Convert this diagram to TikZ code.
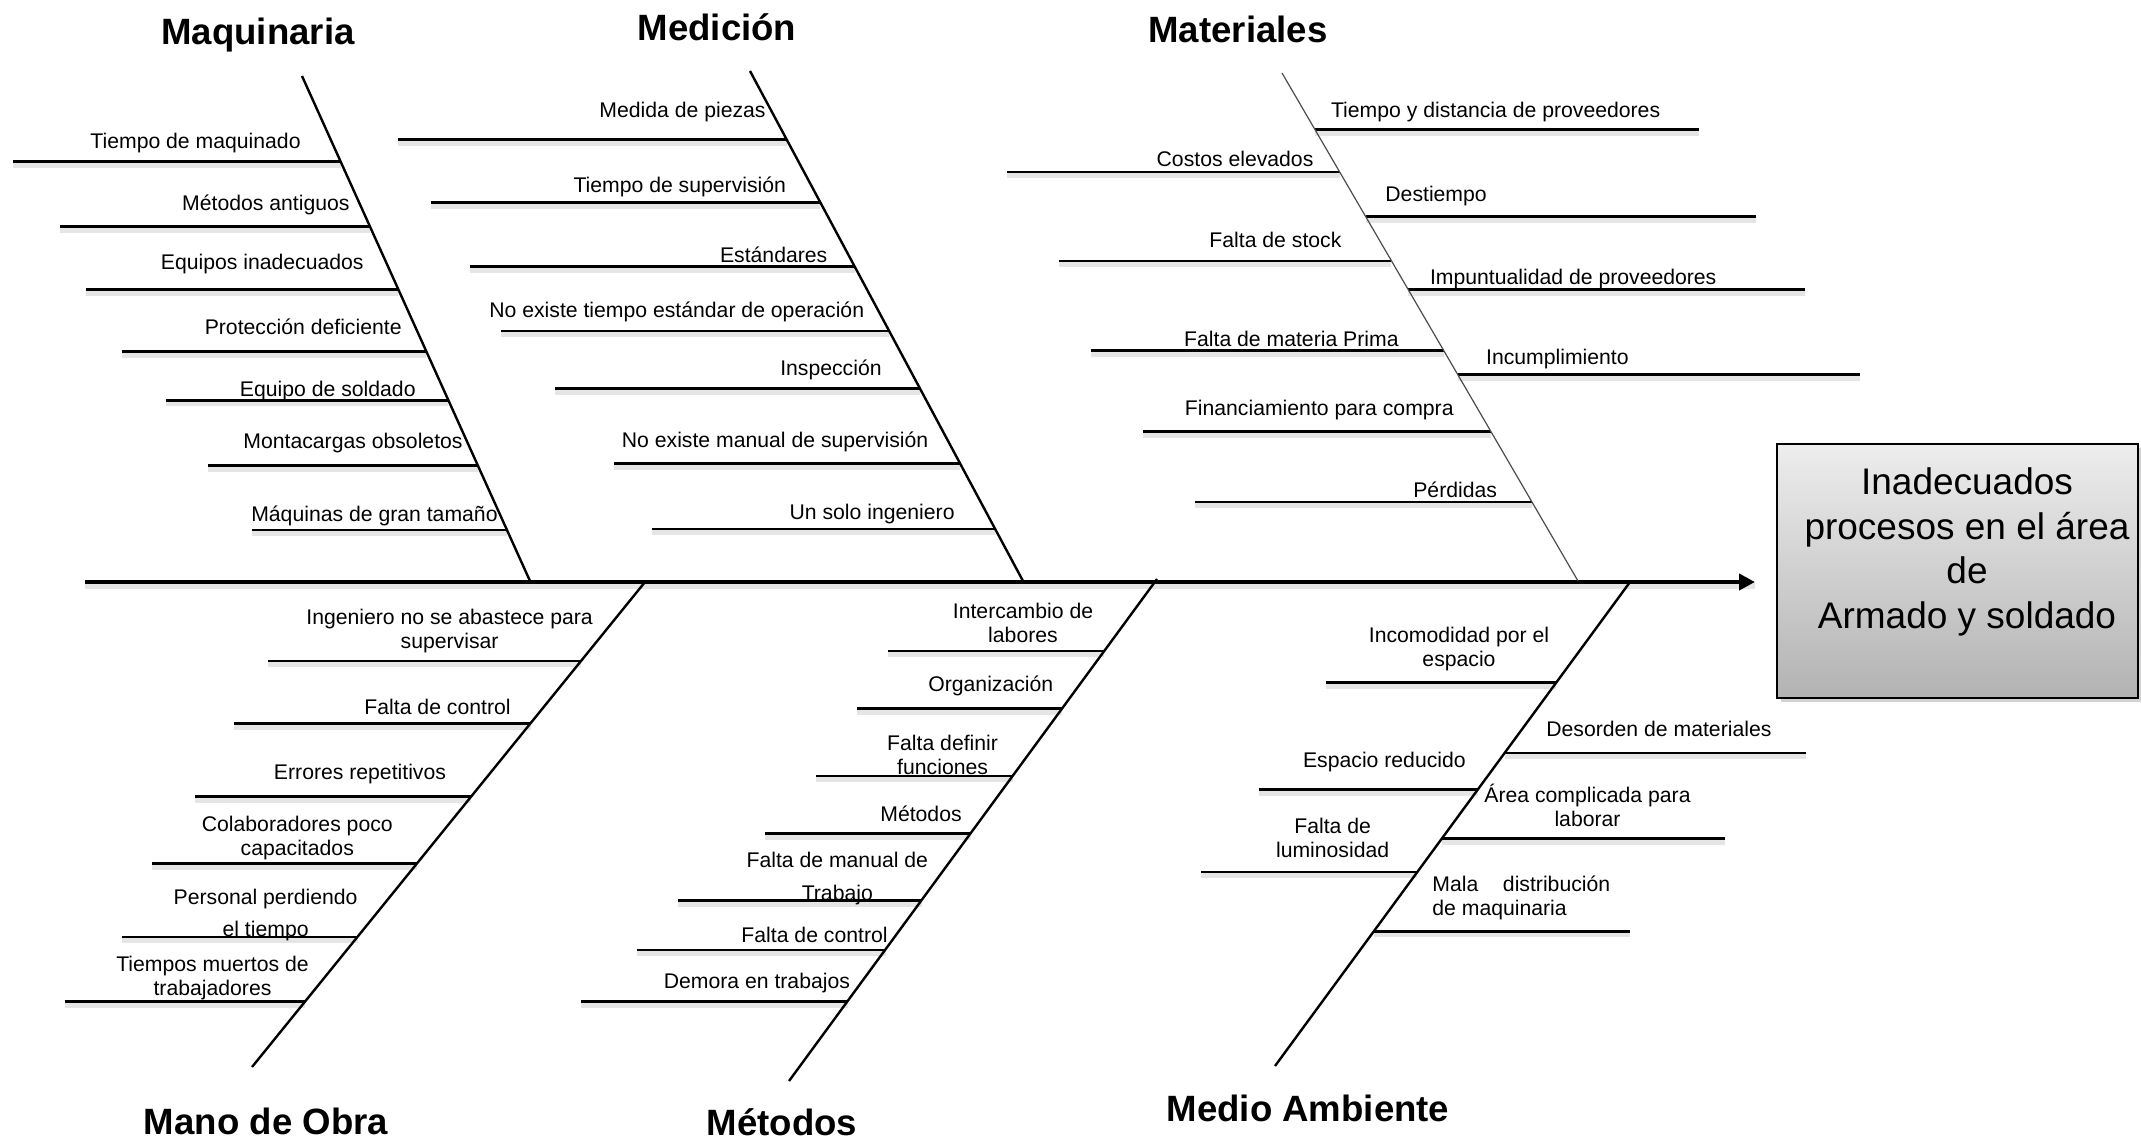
\documentclass[tikz,border=0pt]{standalone}
\usepackage{fontspec}
\setmainfont{Liberation Sans}
\usetikzlibrary{arrows.meta,shadows}

\newcommand\twig[4]{%
  \coordinate (#1L) at (#2,#4);
  \coordinate (#1R) at (#3,#4);
  \draw[twigline] (#1L) -- (#1R);}

\tikzset{
  lbl/.style={font=\fontsize{10.6}{12}\selectfont, inner sep=0pt},
  lbltwo/.style={lbl, align=center},
  lblwide/.style={font=\fontsize{10.6}{16.2}\selectfont, inner sep=0pt, align=center},
  head/.style={font=\fontsize{18.3}{22}\selectfont\bfseries, inner sep=0pt},
  bone/.style={line width=1.2pt},
  thinbone/.style={line width=0.6pt, draw=black!70},
  twigline/.style={line width=1.3pt,
    preaction={draw=black!10, line width=2.6pt, transform canvas={yshift=-1.8pt}}},
  spine/.style={line width=2pt, -{Triangle[length=8pt,width=8pt]},
    preaction={draw=black!10, line width=3.2pt, -, transform canvas={yshift=-2pt}}},
  effectbox/.style={draw=black, line width=1pt, top color=black!7, bottom color=black!30,
    minimum width=180.5pt, minimum height=127pt, inner sep=0pt,
    drop shadow={opacity=0.35, shadow xshift=2pt, shadow yshift=-2pt}},
  efftext/.style={font=\fontsize{18.5}{22.25}\selectfont, align=center, inner sep=0pt}
}

\begin{document}
\begin{tikzpicture}[x=0.5pt,y=-0.5pt]
\useasboundingbox (0,0) rectangle (2141,1142);

% effect box
\node[effectbox] (effect) at (1957.5,571) {};
\node[efftext] (etext) at (1967,552) {Inadecuados\\procesos en el área\\de\\Armado y soldado};

% spine
\coordinate (tail) at (85,582);
\draw[spine, shorten >=10.5pt] (tail) -- (tail -| effect.west);

% headings
\node[head, anchor=base] (hMaq) at (258,44) {Maquinaria};
\node[head, anchor=base] (hMed) at (717,40) {Medición};
\node[head, anchor=base] (hMat) at (1238,42) {Materiales};
\node[head, anchor=base] (hMano) at (266,1134) {Mano de Obra};
\node[head, anchor=base] (hMet) at (782,1135) {Métodos};
\node[head, anchor=base] (hAmb) at (1308,1121) {Medio Ambiente};

% bone end points
\coordinate (maqT) at (302,76);   \coordinate (maqB) at (530,581);
\coordinate (medT) at (750,71);   \coordinate (medB) at (1023,581);
\coordinate (matT) at (1282,73);  \coordinate (matB) at (1578,581);
\coordinate (manT) at (645,582);  \coordinate (manB) at (252,1067);
\coordinate (metT) at (1157,579); \coordinate (metB) at (789,1081);
\coordinate (ambT) at (1630,582); \coordinate (ambB) at (1275,1066);

% Maquinaria
\twig{q1}{13}{340.6}{161.6}
\twig{q2}{59.7}{370}{226.7}
\twig{q3}{85.9}{398.4}{289.6}
\twig{q4}{122}{426.3}{351.4}
\twig{q5}{166}{448.4}{400.2}
\twig{q6}{207.6}{477.8}{465.3}
\twig{q7}{251.6}{507}{530}
\node[lbl, anchor=base east] (tq1) at (301,148) {Tiempo de maquinado};
\node[lbl, anchor=base east] (tq2) at (350,210.5) {Métodos antiguos};
\node[lbl, anchor=base east] (tq3) at (364,269.6) {Equipos inadecuados};
\node[lbl, anchor=base east] (tq4) at (402,334.4) {Protección deficiente};
\node[lbl, anchor=base east] (tq5) at (416,396) {Equipo de soldado};
\node[lbl, anchor=base east] (tq6) at (463,448) {Montacargas obsoletos};
\node[lbl, anchor=base east] (tq7) at (498,521.5) {Máquinas de gran tamaño};

% Medicion
\twig{d1}{397.5}{786.7}{139.5}
\twig{d2}{431.4}{820.3}{202.3}
\twig{d3}{470}{854.5}{266.3}
\twig{d4}{500.8}{889.2}{331}
\twig{d5}{554.5}{919.9}{388.4}
\twig{d6}{614.2}{960.1}{463.5}
\twig{d7}{651.8}{995.2}{529}
\node[lbl, anchor=base east] (td1) at (766,117) {Medida de piezas};
\node[lbl, anchor=base east] (td2) at (786.4,192) {Tiempo de supervisión};
\node[lbl, anchor=base east] (td3) at (827.7,262) {Estándares};
\node[lbl, anchor=base east] (td4) at (864.5,317.7) {No existe tiempo estándar de operación};
\node[lbl, anchor=base east] (td5) at (882,375) {Inspección};
\node[lbl, anchor=base east] (td6) at (928.7,447) {No existe manual de supervisión};
\node[lbl, anchor=base east] (td7) at (955,519.3) {Un solo ingeniero};

% Materiales
\twig{t1}{1007}{1339.7}{172}
\twig{t2}{1058.7}{1391.4}{260.8}
\twig{t3}{1090.8}{1443.8}{350.7}
\twig{t4}{1142.9}{1491}{431.7}
\twig{t5}{1194.9}{1532}{502}
\twig{r1}{1314.9}{1699}{129.5}
\twig{r2}{1365.6}{1756}{216.4}
\twig{r3}{1408.2}{1805}{289.6}
\twig{r4}{1457.8}{1859.7}{374.7}
\node[lbl, anchor=base east] (tt1) at (1313.8,166.8) {Costos elevados};
\node[lbl, anchor=base east] (tt2) at (1341.8,247.4) {Falta de stock};
\node[lbl, anchor=base east] (tt3) at (1399,346.6) {Falta de materia Prima};
\node[lbl, anchor=base east] (tt4) at (1454,415.7) {Financiamiento para compra};
\node[lbl, anchor=base east] (tt5) at (1497.4,497) {Pérdidas};
\node[lbl, anchor=base west] (tr1) at (1330.6,117) {Tiempo y distancia de proveedores};
\node[lbl, anchor=base west] (tr2) at (1385,201.2) {Destiempo};
\node[lbl, anchor=base west] (tr3) at (1429.6,284.4) {Impuntualidad de proveedores};
\node[lbl, anchor=base west] (tr4) at (1485.7,364) {Incumplimiento};

% Mano de Obra
\twig{o1}{267.8}{581}{661}
\twig{o2}{233.5}{530.5}{723.3}
\twig{o3}{195}{471.2}{796.5}
\twig{o4}{151.8}{416.8}{863.6}
\twig{o5}{121.9}{357.5}{936.8}
\twig{o6}{64.7}{304.9}{1001.7}
\node[lbltwo] (to1) at (449.6,631) {Ingeniero no se abastece para\\supervisar};
\node[lbl, anchor=base east] (to2) at (511,714.7) {Falta de control};
\node[lbl, anchor=base] (to3) at (360,779.7) {Errores repetitivos};
\node[lbltwo] (to4) at (297.3,838) {Colaboradores poco\\capacitados};
\node[lblwide] (to5) at (265.6,915) {Personal perdiendo\\el tiempo};
\node[lbltwo] (to6) at (212.5,977.7) {Tiempos muertos de\\trabajadores};

% Metodos
\twig{m1}{888}{1104.3}{651}
\twig{m2}{856.9}{1062.2}{708.5}
\twig{m3}{815.8}{1012.7}{776}
\twig{m4}{765.4}{970.6}{833.6}
\twig{m5}{678.3}{921.6}{900.4}
\twig{m6}{636.8}{885.5}{949.8}
\twig{m7}{581.4}{847.5}{1001.7}
\node[lbltwo] (tm1) at (1023,622.8) {Intercambio de\\labores};
\node[lbl, anchor=base] (tm2) at (990.8,691.4) {Organización};
\node[lbltwo] (tm3) at (942.6,755) {Falta definir\\funciones};
\node[lbl, anchor=base] (tm4) at (921,821.3) {Métodos};
\node[lblwide] (tm5) at (837.3,878.4) {Falta de manual de\\Trabajo};
\node[lbl, anchor=base east] (tm6) at (888,942) {Falta de control};
\node[lbl, anchor=base] (tm7) at (756.9,988.3) {Demora en trabajos};

% Medio Ambiente
\twig{a1}{1326.3}{1556.3}{682.5}
\twig{a2}{1258.5}{1477.9}{789.4}
\twig{a3}{1201.3}{1417.4}{871.8}
\twig{a4}{1504.6}{1806.2}{753}
\twig{a5}{1441.9}{1725}{838.4}
\twig{a6}{1373.9}{1630}{931.2}
\node[lbltwo] (ta1) at (1459,649.5) {Incomodidad por el\\espacio};
\node[lbl, anchor=base] (ta2) at (1384.4,767.4) {Espacio reducido};
\node[lbltwo] (ta3) at (1332.6,838) {Falta de\\luminosidad};
\node[lbl, anchor=base] (ta4) at (1658.9,736) {Desorden de materiales};
\node[lbltwo] (ta5) at (1587.5,805) {Área complicada para\\laborar};
\node[lbl, align=left, anchor=west] (ta6) at (1432,897.5) {\hbox to 88.9pt{Mala\hfill distribución}\\de maquinaria};

% bones drawn last, over the shadows
\draw[bone] (maqT) -- (maqB);
\draw[bone] (medT) -- (medB);
\draw[thinbone] (matT) -- (matB);
\draw[bone] (manT) -- (manB);
\draw[bone] (metT) -- (metB);
\draw[bone] (ambT) -- (ambB);

\end{tikzpicture}
\end{document}
